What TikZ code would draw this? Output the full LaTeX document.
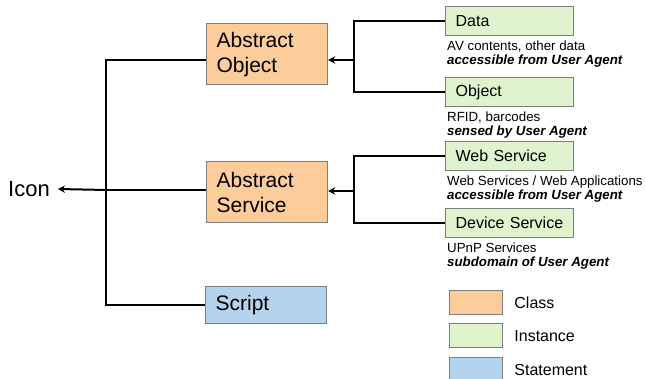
\documentclass[tikz,border=0pt]{standalone}
\usepackage{fontspec}
\setmainfont{Liberation Sans}
\usetikzlibrary{arrows.meta,positioning}
\definecolor{classc}{RGB}{252,204,154}
\definecolor{instc}{RGB}{222,243,206}
\definecolor{stmtc}{RGB}{180,212,238}
\definecolor{edge}{RGB}{125,125,125}
\tikzset{
  cls/.style={draw=edge,line width=1.2pt,fill=classc,anchor=north west,minimum width=121pt,minimum height=61pt,text width=101pt,inner xsep=10pt,align=left,font=\fontsize{21}{25}\selectfont},
  inst/.style={draw=edge,line width=1.2pt,fill=instc,anchor=north west,minimum width=128pt,minimum height=29pt,text width=108pt,inner xsep=10pt,align=left,font=\fontsize{16}{19}\selectfont},
  note/.style={inner sep=0pt,align=left,font=\fontsize{13.3}{14.5}\selectfont},
  iconlbl/.style={inner xsep=8pt,inner ysep=0pt,font=\fontsize{22}{26}\selectfont},
  legbox/.style={draw=edge,line width=1.2pt,minimum width=53pt,minimum height=24pt,anchor=north west,inner sep=0pt},
  leglbl/.style={inner sep=0pt,font=\fontsize{16}{19}\selectfont},
  conn/.style={line width=2pt},
  arr/.style={conn,-{Stealth[length=7pt,width=7.5pt]}},
}
\begin{document}
\begin{tikzpicture}[x=1pt,y=-1pt]
  \clip (0,0) rectangle (645,379);
  % classes and statement
  \node[cls] (absobj) at (206,23) {Abstract\\Object};
  \node[cls] (abssrv) at (206,161) {Abstract\\Service};
  \node[cls,fill=stmtc,minimum height=37pt] (script) at (205,286) {Script};
  \node[iconlbl,anchor=east] (icon) at (58,189) {Icon};
  % instances
  \node[inst] (data) at (445,6) {Data};
  \node[note,below=4pt of data.south west,anchor=north west,xshift=2pt] (datanote)
    {AV contents, other data\\\textbf{\textit{accessible from User Agent}}};
  \node[inst] (object) at (445,77) {Object};
  \node[note,below=4pt of object.south west,anchor=north west,xshift=2pt] (objnote)
    {RFID, barcodes\\\textbf{\textit{sensed by User Agent}}};
  \node[inst] (websrv) at (445,141) {Web Service};
  \node[note,below=4pt of websrv.south west,anchor=north west,xshift=2pt] (webnote)
    {Web Services / Web Applications\\\textbf{\textit{accessible from User Agent}}};
  \node[inst] (devsrv) at (445,208) {Device Service};
  \node[note,below=4pt of devsrv.south west,anchor=north west,xshift=2pt] (devnote)
    {UPnP Services\\\textbf{\textit{subdomain of User Agent}}};
  % forks
  \coordinate (ofork) at (354,60);
  \coordinate (sfork) at (354,191);
  \coordinate (lfork) at (106,190);
  \draw[conn] (data.west) -| (ofork) |- (object.west);
  \draw[arr] (ofork) -- (ofork -| absobj.east);
  \draw[conn] (websrv.west) -| (sfork) |- (devsrv.west);
  \draw[arr] (sfork) -- (sfork -| abssrv.east);
  \draw[conn] (absobj.west |- ofork) -| (lfork) |- (script.west);
  \draw[conn] (abssrv.west |- lfork) -- (lfork);
  \draw[arr] (lfork) -- (icon.east);
  % legend
  \node[legbox,fill=classc] (legcls) at (449,290) {};
  \node[leglbl,right=11pt of legcls] (lblcls) {Class};
  \node[legbox,fill=instc] (leginst) at (449,323) {};
  \node[leglbl,right=11pt of leginst] (lblinst) {Instance};
  \node[legbox,fill=stmtc] (legstmt) at (449,357) {};
  \node[leglbl,right=11pt of legstmt] (lblstmt) {Statement};
\end{tikzpicture}
\end{document}
